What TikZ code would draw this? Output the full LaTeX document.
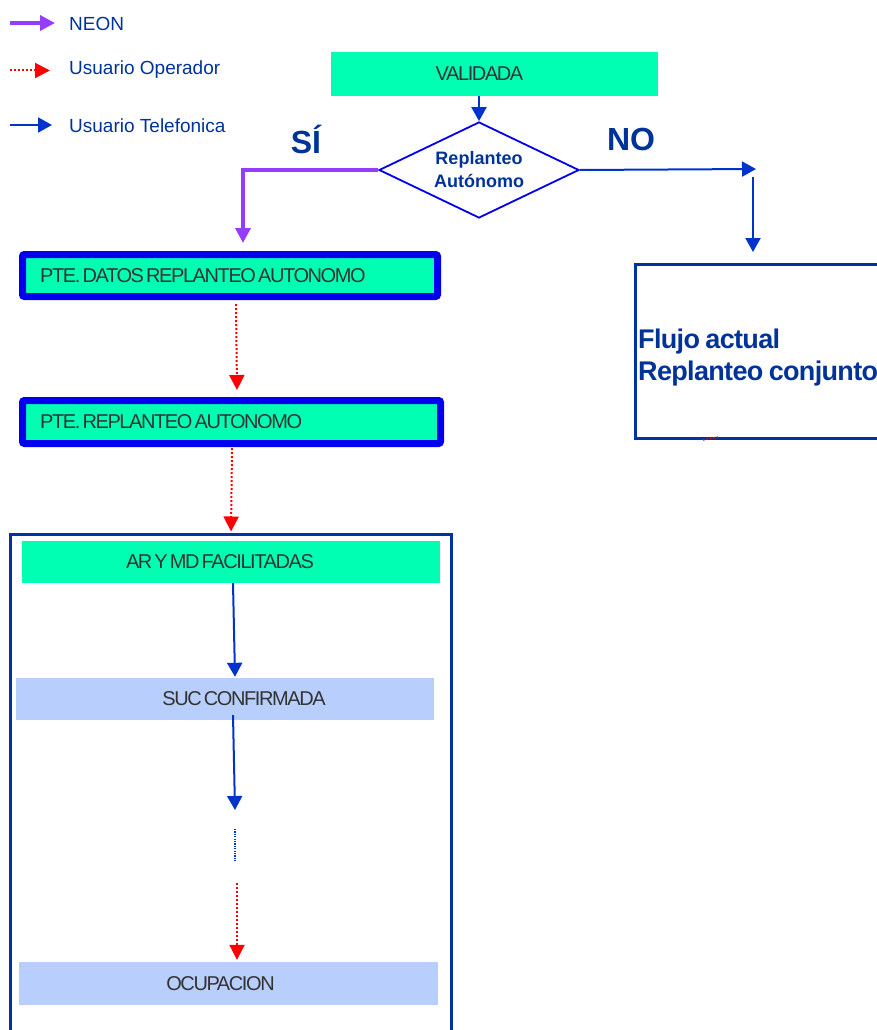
\documentclass[tikz,border=0pt]{standalone}
\usepackage{fontspec}
\setmainfont{Liberation Sans}
\newfontfamily\tightfont[LetterSpace=-7,WordSpace=0.5]{Liberation Sans}
\newfontfamily\flujofont[LetterSpace=-2.5,WordSpace=0.8]{Liberation Sans}
\usepackage{xcolor}
\usepackage{tikz}
\usetikzlibrary{arrows.meta,shapes.geometric,positioning}

\definecolor{mint}{RGB}{0,255,179}
\definecolor{paleblue}{RGB}{184,206,252}
\definecolor{navy}{RGB}{0,51,153}
\definecolor{telblue}{RGB}{0,51,204}
\definecolor{edgeblue}{RGB}{0,0,238}
\definecolor{neonpurple}{RGB}{150,60,255}
\definecolor{boxtext}{RGB}{51,51,51}
\definecolor{frameblue}{RGB}{0,51,160}

\begin{document}
\begin{tikzpicture}[x=1pt, y=-1pt,
  boxlbl/.style={font=\tightfont\fontsize{20}{22}\selectfont, text=boxtext},
  leftlbl/.style={boxlbl, anchor=west, inner sep=0pt, xshift=21pt},
  mintbox/.style={fill=mint, minimum height=42pt, inner sep=0pt},
  palebox/.style={fill=paleblue, minimum height=42pt, inner sep=0pt},
  ptebox/.style={draw=edgeblue, line width=7pt, rounded corners=2pt, fill=mint,
    minimum height=42pt, inner sep=0pt},
  legend/.style={anchor=base west, inner sep=0pt, text=navy, font=\fontsize{19}{22}\selectfont},
  neon/.style={draw=neonpurple, line width=3.5pt, -{Triangle[length=15pt,width=15pt]}},
  oper/.style={draw=red, line width=2pt, dotted, -{Triangle[length=15pt,width=15pt]}},
  tel/.style={draw=telblue, line width=2pt, -{Triangle[length=14pt,width=15pt]}},
  ]
  \useasboundingbox (0,0) rectangle (877,1030);

  % Legend
  \node[legend] (neonT) at (69,31) {NEON};
  \node[legend] (operT) at (69,75) {Usuario Operador};
  \node[legend] (telT) at (69,132) {Usuario Telefonica};
  \draw[neon] ([xshift=-59pt,yshift=8pt]neonT.base west) -- ([xshift=-14pt,yshift=8pt]neonT.base west);
  \draw[oper] ([xshift=-59pt,yshift=4.5pt]operT.base west) -- ([xshift=-19pt,yshift=4.5pt]operT.base west);
  \draw[tel] ([xshift=-59pt,yshift=7pt]telT.base west) -- ([xshift=-17pt,yshift=7pt]telT.base west);

  % Decision
  \node[mintbox, minimum width=327pt, minimum height=44pt,
    label={[boxlbl,xshift=-15pt]center:VALIDADA}] (valid) at (494.5,74) {};
  \node[diamond, draw=edgeblue, line width=1.8pt, minimum width=200pt, minimum height=96pt,
    aspect=2.08, inner sep=0pt, align=center, text=navy,
    font=\bfseries\fontsize{18}{23}\selectfont] (dec) at (479,170) {Replanteo\\Autónomo};
  \draw[tel] (dec.north |- valid.south) -- (dec.north);

  \node[font=\bfseries\fontsize{32}{36}\selectfont, text=navy] (si) at (306,139) {SÍ};
  \node[font=\bfseries\fontsize{32}{36}\selectfont, text=navy] (no) at (631,139) {NO};

  % SI branch
  \coordinate (siEnd) at (243,243);
  \draw[neon] (dec.west) -| (siEnd);

  % NO branch
  \node[draw=frameblue, line width=3pt, minimum width=249pt, minimum height=174pt, inner sep=0pt,
    label={[anchor=west, inner sep=0pt, xshift=4pt, yshift=-6pt, align=left, text=navy,
      font=\flujofont\bfseries\fontsize{27}{32}\selectfont]west:{Flujo actual\\Replanteo conjunto}}]
    (flujo) at (760,351.5) {};
  \coordinate (noEnd) at (756,169);
  \coordinate (noDrop) at (753,177);
  \draw[tel] (dec.east) -- (noEnd);
  \draw[tel] (noDrop) -- ([yshift=11pt]flujo.north -| noDrop);
  \draw[red, line width=1.5pt, dotted] (703,440) -- (718,437);

  % Autonomous states
  \node[ptebox, minimum width=415pt,
    label={[leftlbl]west:PTE. DATOS REPLANTEO AUTONOMO}] (datos) at (230,275.5) {};
  \node[ptebox, minimum width=418pt, minimum height=43pt,
    label={[leftlbl]west:PTE. REPLANTEO AUTONOMO}] (replan) at (231.5,422) {};
  \draw[oper] ([xshift=6pt,yshift=-4pt]datos.south) -- ([xshift=5.5pt,yshift=7pt]replan.north);

  % Group of later states
  \node[draw=frameblue, line width=3pt, minimum width=441pt, minimum height=520pt,
    inner sep=0pt] (grp) at (231,794.5) {};
  \draw[oper] ([xshift=0.5pt,yshift=-1pt]replan.south) -- ([yshift=1.5pt]grp.north);

  \node[mintbox, minimum width=418pt,
    label={[boxlbl,xshift=-11pt]center:AR Y MD FACILITADAS}] (armd) at (231,562) {};
  \node[palebox, minimum width=418pt,
    label={[boxlbl,xshift=19pt]center:SUC CONFIRMADA}] (suc) at (225,699) {};
  \node[palebox, minimum width=419pt, minimum height=43pt,
    label={[boxlbl,xshift=-8pt]center:OCUPACION}] (ocup) at (228.5,983.5) {};

  \coordinate (gapA) at (235,810);
  \coordinate (gapB) at (235,829);
  \coordinate (gapC) at (235,862);
  \coordinate (gapD) at (237,883);
  \draw[tel] ([xshift=2pt]armd.south) -- ([xshift=10pt,yshift=1pt]suc.north);
  \draw[tel] ([xshift=8pt,yshift=5pt]suc.south) -- (gapA);
  \draw[telblue, line width=1.2pt, dash pattern=on 1.2pt off 1.2pt] (gapB) -- (gapC);
  \draw[oper] (gapD) -- ([xshift=8.5pt,yshift=2pt]ocup.north);

\end{tikzpicture}
\end{document}
